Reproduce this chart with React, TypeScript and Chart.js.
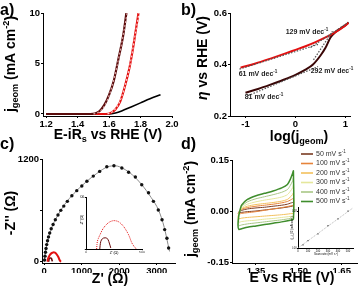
import React, { useEffect, useRef } from "react";
import { Chart, registerables } from "chart.js";

Chart.register(...registerables);

const W = 361;
const H = 287;
const FF = "'Liberation Sans', Arial, Helvetica, sans-serif";

// ---------- (a) polarisation curves ----------
const aTicksX = [1.2, 1.4, 1.6, 1.8, 2.0];
const aTicksY = [0, 5, 10];
const aDarkE = [1.2, 1.3, 1.4, 1.48, 1.51, 1.54, 1.57, 1.6, 1.63, 1.66, 1.69, 1.71];
const aDarkJ = [0, 0, 0, 0, 0.05, 0.3, 0.9, 1.9, 3.3, 5.5, 7.8, 10];
const aDarkFitE = [1.5, 1.53, 1.56, 1.59, 1.62, 1.65, 1.68, 1.715];
const aDarkFitJ = [0, 0.15, 0.55, 1.4, 2.8, 4.7, 7.0, 10];
const aRedE = [1.2, 1.4, 1.58, 1.61, 1.64, 1.67, 1.7, 1.73, 1.75, 1.77, 1.787];
const aRedJ = [0, 0, 0, 0.1, 0.45, 1.2, 2.7, 4.6, 6.3, 8.3, 10];
const aRedFitE = [1.59, 1.62, 1.65, 1.68, 1.71, 1.74, 1.76, 1.79];
const aRedFitJ = [0, 0.2, 0.7, 1.7, 3.3, 5.4, 7.3, 10];
const aBlkE = [1.2, 1.5, 1.6, 1.64, 1.68, 1.74, 1.8, 1.86, 1.927];
const aBlkJ = [0, 0, 0, 0.1, 0.3, 0.7, 1.1, 1.5, 1.9];

// ---------- (b) Tafel plots ----------
const bTicksX = [-1, 0, 1];
const bTicksY = [0.2, 0.4, 0.6];
const bRedX = [-1.1, -0.8, -0.5, -0.2, 0, 0.2, 0.4, 0.6, 0.8, 1.0, 1.06];
const bRedY = [0.388, 0.404, 0.423, 0.443, 0.457, 0.471, 0.487, 0.505, 0.526, 0.552, 0.562];
const bDarkX = [-1.0, -0.75, -0.5, -0.25, 0, 0.2, 0.35, 0.5, 0.6, 0.7, 0.8, 0.9, 1.0, 1.06];
const bDarkY = [0.29, 0.305, 0.322, 0.34, 0.36, 0.38, 0.4, 0.435, 0.465, 0.505, 0.526, 0.54, 0.553, 0.563];
const bFit61X = [-1.12, 0.45];
const bFit61Y = [0.382, 0.478];
const bFit129X = [0.3, 1.06];
const bFit129Y = [0.466, 0.564];
const bFit81X = [-0.95, 0.45];
const bFit81Y = [0.279, 0.392];
const bFit292X = [0.36, 0.74];
const bFit292Y = [0.418, 0.529];
const bSlopes = [129, 61, 292, 81];
const bSlopeX = [0.23, -0.75, 0.73, -0.63];
const bSlopeY = [0.527, 0.364, 0.375, 0.274];

// ---------- (c) Nyquist plots ----------
const cTicksX = [0, 1000, 2000, 3000];
const cTicksY = [0, 600, 1200];
const cDotX = [15, 25, 38, 52, 70, 92, 118, 150, 190, 240, 300, 370, 445, 525, 620, 740, 870, 1005, 1140, 1310, 1480, 1670, 1860, 2070, 2250, 2430, 2600, 2780, 2910, 3040, 3140, 3210, 3270, 3315];
const cDotY = [20, 65, 110, 155, 200, 245, 290, 335, 385, 435, 490, 545, 600, 650, 705, 770, 830, 885, 940, 1000, 1055, 1110, 1122, 1095, 1045, 990, 900, 805, 705, 605, 490, 375, 275, 160];
const cFitX = [0, 40, 100, 200, 350, 550, 800, 1100, 1400, 1700, 1900, 2100, 2350, 2600, 2850, 3050, 3200, 3300, 3340];
const cFitY = [0, 120, 250, 395, 530, 670, 800, 925, 1030, 1110, 1120, 1090, 1015, 900, 750, 600, 400, 200, 120];
const cRedX = [95, 98, 102, 110, 125, 155, 200, 245, 290, 335, 380, 410, 440, 455];
const cRedY = [0, 17, 30, 40, 55, 80, 101, 109, 105, 87, 55, 23, 4, 0];
const cDarkX = [123, 126, 132, 145, 155, 170, 185, 198, 208, 216, 221];
const cDarkY = [0, 13, 29, 39, 42, 43, 42, 35, 23, 12, 4];
const cInsetTicksX = [0, 500];
const cInsetTicksY = [0, 200];

// ---------- (d) cyclic voltammograms ----------
const dTicksX = [1.35, 1.5, 1.65];
const dTicksY = [-0.15, 0, 0.15];
const dRates = [50, 100, 200, 300, 400, 500];
const dE = [1.29, 1.295, 1.3, 1.32, 1.35, 1.38, 1.41, 1.44, 1.46, 1.47, 1.478, 1.481, 1.481, 1.47, 1.44, 1.41, 1.38, 1.35, 1.32, 1.3, 1.29, 1.287, 1.29];
const d50 = [-0.001, 0.002, 0.004, 0.008, 0.011, 0.013, 0.016, 0.019, 0.022, 0.025, 0.027, 0.028, 0.018, 0.015, 0.011, 0.008, 0.005, 0.002, 0.0, -0.002, -0.003, -0.002, -0.001];
const d100 = [-0.002, 0.003, 0.007, 0.012, 0.016, 0.019, 0.022, 0.026, 0.03, 0.034, 0.038, 0.04, 0.02, 0.017, 0.012, 0.008, 0.004, 0.0, -0.003, -0.005, -0.007, -0.005, -0.002];
const d200 = [-0.004, 0.003, 0.009, 0.016, 0.021, 0.024, 0.027, 0.031, 0.036, 0.043, 0.05, 0.056, -0.004, -0.006, -0.009, -0.011, -0.013, -0.015, -0.017, -0.019, -0.021, -0.016, -0.004];
const d300 = [-0.006, 0.004, 0.012, 0.022, 0.029, 0.034, 0.038, 0.043, 0.05, 0.06, 0.07, 0.078, -0.012, -0.014, -0.017, -0.02, -0.022, -0.025, -0.027, -0.029, -0.031, -0.024, -0.006];
const d400 = [-0.008, 0.006, 0.016, 0.029, 0.038, 0.044, 0.05, 0.057, 0.065, 0.077, 0.09, 0.1, -0.018, -0.02, -0.024, -0.027, -0.03, -0.033, -0.036, -0.039, -0.041, -0.032, -0.008];
const d500 = [-0.01, 0.008, 0.02, 0.036, 0.047, 0.054, 0.061, 0.07, 0.08, 0.095, 0.112, 0.12, -0.022, -0.025, -0.03, -0.034, -0.038, -0.042, -0.046, -0.05, -0.052, -0.04, -0.01];
const dInsetRate = [50, 100, 200, 300, 400, 500];
const dInsetJ = [0.007, 0.016, 0.031, 0.049, 0.064, 0.081];
const dInsetFitX = [0, 550];
const dInsetFitY = [0, 0.088];
const dInsetTicksX = [0, 100, 200, 300, 400, 500];
const dInsetTicksY = [0, 0.08];

const dLoops = [d50, d100, d200, d300, d400, d500];
const dColors = ["#7a3b22", "#e6833a", "#f3c15d", "#e5e79c", "#a9c786", "#3f8d2c"];

// ---------- helpers ----------
const pts = (xs: number[], ys: number[]) => xs.map((x, i) => ({ x, y: ys[i] }));

function line(xs: number[], ys: number[], color: string, width: number, extra: any = {}) {
  return {
    data: pts(xs, ys),
    showLine: true,
    borderColor: color,
    backgroundColor: color,
    borderWidth: width,
    pointRadius: 0,
    fill: false,
    ...extra,
  };
}

type Seg = { t: string; s?: number; dy?: number; it?: boolean; b?: boolean };

function drawRich(
  ctx: CanvasRenderingContext2D,
  segs: Seg[],
  x: number,
  y: number,
  size: number,
  o: { rot?: number; color?: string; bold?: boolean; align?: "left" | "center" | "right" } = {}
) {
  const bold = o.bold ?? true;
  const font = (sg: Seg) =>
    `${sg.it ? "italic " : ""}${sg.b ?? bold ? "bold " : ""}${(sg.s ?? 1) * size}px ${FF}`;
  ctx.save();
  ctx.translate(x, y);
  if (o.rot) ctx.rotate(o.rot);
  let total = 0;
  for (const sg of segs) {
    ctx.font = font(sg);
    total += ctx.measureText(sg.t).width;
  }
  const align = o.align ?? "center";
  let cx = align === "center" ? -total / 2 : align === "right" ? -total : 0;
  ctx.textBaseline = "middle";
  ctx.textAlign = "left";
  ctx.fillStyle = o.color ?? "#000";
  for (const sg of segs) {
    ctx.font = font(sg);
    ctx.fillText(sg.t, cx, (sg.dy ?? 0) * size);
    cx += ctx.measureText(sg.t).width;
  }
  ctx.restore();
}

type AxisSpec = {
  min: number;
  max: number;
  ticks: number[];
  fmt: (v: number) => string;
  size: number;
  bold?: boolean;
  tickLen?: number;
  pad?: number;
};

type Spec = {
  area: [number, number, number, number];
  yW: number;
  xH: number;
  x: AxisSpec;
  y: AxisSpec;
  datasets: any[];
  draw: (c: any) => void;
};

function axis(a: AxisSpec, isY: boolean, fixed: number) {
  return {
    type: "linear",
    min: a.min,
    max: a.max,
    afterBuildTicks: (s: any) => {
      s.ticks = a.ticks.map((v) => ({ value: v }));
    },
    afterFit: (s: any) => {
      if (isY) s.width = fixed;
      else s.height = fixed;
    },
    ticks: {
      callback: (v: any) => a.fmt(Number(v)),
      font: { family: FF, size: a.size, weight: a.bold === false ? "normal" : "bold" },
      color: "#000",
      padding: a.pad ?? 1,
      maxRotation: 0,
      autoSkip: false,
    },
    grid: {
      display: true,
      drawOnChartArea: false,
      drawTicks: true,
      tickLength: a.tickLen ?? 2,
      color: "#000",
      lineWidth: 1,
    },
    border: { display: true, color: "#000", width: 1 },
  };
}

function makeChart(canvas: HTMLCanvasElement, spec: Spec) {
  const [l, t, r, b] = spec.area;
  return new Chart(canvas, {
    type: "scatter",
    data: { datasets: spec.datasets },
    options: {
      responsive: false,
      animation: false,
      devicePixelRatio: 1,
      events: [],
      layout: { padding: { left: l - spec.yW, top: t, right: W - r, bottom: H - b - spec.xH } },
      plugins: { legend: { display: false }, tooltip: { enabled: false } },
      scales: { x: axis(spec.x, false, spec.xH), y: axis(spec.y, true, spec.yW) },
    } as any,
    plugins: [{ id: "txt", afterDraw: (c: any) => spec.draw(c) }],
  } as any);
}

const jgeom: Seg[] = [
  { t: "j" },
  { t: "geom", s: 0.65, dy: 0.3 },
  { t: " (mA cm" },
  { t: "-2", s: 0.65, dy: -0.35 },
  { t: ")" },
];

// ---------- specs ----------
const specA: Spec = {
  area: [43, 13, 172, 116],
  yW: 26,
  xH: 12,
  x: { min: 1.18, max: 2.0, ticks: aTicksX, fmt: (v) => v.toFixed(1), size: 9.5 },
  y: { min: -0.2, max: 10, ticks: aTicksY, fmt: (v) => String(v), size: 9.5 },
  datasets: [
    line(aDarkFitE, aDarkFitJ, "#d9a0a0", 1.2, { borderDash: [2, 2], cubicInterpolationMode: "monotone" }),
    line(aRedFitE, aRedFitJ, "#ffc8c8", 1.2, { borderDash: [2, 2], cubicInterpolationMode: "monotone" }),
    line(aDarkE, aDarkJ, "#5a0c0c", 2.2, { cubicInterpolationMode: "monotone" }),
    line(aRedE, aRedJ, "#e31010", 2.2, { cubicInterpolationMode: "monotone" }),
    line(aBlkE, aBlkJ, "#000", 1.6, { cubicInterpolationMode: "monotone" }),
  ],
  draw: (c) => {
    const ctx = c.ctx;
    drawRich(ctx, [{ t: "a)" }], 0, 11, 16, { align: "left" });
    drawRich(ctx, [{ t: "E-iR" }, { t: "s", s: 0.65, dy: 0.3 }, { t: " vs RHE (V)" }], 108, 135, 14);
    drawRich(ctx, jgeom, 11, 64, 14, { rot: -Math.PI / 2 });
  },
};

const specB: Spec = {
  area: [230, 13, 350, 116],
  yW: 26,
  xH: 12,
  x: { min: -1.31, max: 1.09, ticks: bTicksX, fmt: (v) => String(v), size: 9.5 },
  y: { min: 0.2, max: 0.6, ticks: bTicksY, fmt: (v) => v.toFixed(1), size: 9.5 },
  datasets: [
    line(bFit61X, bFit61Y, "#555", 1.2, { borderDash: [1.5, 1.5] }),
    line(bFit129X, bFit129Y, "#555", 1.2, { borderDash: [1.5, 1.5] }),
    line(bFit81X, bFit81Y, "#555", 1.2, { borderDash: [1.5, 1.5] }),
    line(bFit292X, bFit292Y, "#555", 1.2, { borderDash: [1.5, 1.5] }),
    line(bRedX, bRedY, "#e31010", 2, { cubicInterpolationMode: "monotone" }),
    line(bDarkX, bDarkY, "#3a0606", 2, { cubicInterpolationMode: "monotone" }),
  ],
  draw: (c) => {
    const ctx = c.ctx;
    const sx = c.scales.x;
    const sy = c.scales.y;
    drawRich(ctx, [{ t: "b)" }], 181, 11, 16, { align: "left" });
    bSlopes.forEach((s, i) => {
      drawRich(
        ctx,
        [{ t: `${s} mV dec` }, { t: "-1", s: 0.65, dy: -0.35 }],
        sx.getPixelForValue(bSlopeX[i]),
        sy.getPixelForValue(bSlopeY[i]),
        7,
        { color: "#222" }
      );
    });
    drawRich(ctx, [{ t: "log(j" }, { t: "geom", s: 0.65, dy: 0.3 }, { t: ")" }], 299, 137, 14);
    drawRich(ctx, [{ t: "η", it: true }, { t: " vs RHE (V)" }], 203, 58, 14, { rot: -Math.PI / 2 });
  },
};

const specC: Spec = {
  area: [42, 159, 175, 263],
  yW: 30,
  xH: 10,
  x: { min: -55, max: 3485, ticks: cTicksX, fmt: (v) => String(v), size: 9.5 },
  y: { min: -15, max: 1200, ticks: cTicksY, fmt: (v) => (v === 600 ? "" : String(v)), size: 9.5 },
  datasets: [
    line(cRedX, cRedY, "#e31010", 2, { tension: 0.3 }),
    line(cDarkX, cDarkY, "#6a0a0a", 1.6, { tension: 0.3 }),
    { data: pts(cDotX, cDotY), showLine: false, pointRadius: 1.7, pointBackgroundColor: "#111", pointBorderWidth: 0 },
    line(cFitX, cFitY, "#8a8a8a", 1, { cubicInterpolationMode: "monotone" }),
  ],
  draw: (c) => {
    const ctx = c.ctx;
    drawRich(ctx, [{ t: "c)" }], 0, 145, 16, { align: "left" });
    drawRich(ctx, [{ t: "Z' (Ω)" }], 110, 279, 14);
    drawRich(ctx, [{ t: "-Z'' (Ω)" }], 11, 213, 14, { rot: -Math.PI / 2 });
  },
};

const specCInset: Spec = {
  area: [86, 197, 142, 249],
  yW: 6,
  xH: 4,
  x: { min: 0, max: 500, ticks: cInsetTicksX, fmt: (v) => String(v), size: 3.5, bold: false, tickLen: 1.2, pad: 0.5 },
  y: { min: 0, max: 200, ticks: cInsetTicksY, fmt: (v) => (v === 0 ? "" : String(v)), size: 3.5, bold: false, tickLen: 1.2, pad: 0.5 },
  datasets: [
    line(cRedX, cRedY, "#e31010", 1, { tension: 0.3, borderDash: [1, 1] }),
    line(cDarkX, cDarkY, "#6a0a0a", 1, { tension: 0.3 }),
  ],
  draw: (c) => {
    const ctx = c.ctx;
    drawRich(ctx, [{ t: "Z' (Ω)" }], 114, 253.5, 3.5, { bold: false });
    drawRich(ctx, [{ t: "-Z'' (Ω)" }], 82.5, 220, 3.5, { bold: false, rot: -Math.PI / 2 });
  },
};

const specD: Spec = {
  area: [232, 160, 357, 263],
  yW: 30,
  xH: 10,
  x: { min: 1.266, max: 1.7036, ticks: dTicksX, fmt: (v) => v.toFixed(2), size: 9.5 },
  y: { min: -0.151, max: 0.152, ticks: dTicksY, fmt: (v) => v.toFixed(2), size: 9.5 },
  datasets: dLoops
    .map((ys, i) => line(dE, ys, dColors[i], i === 5 ? 1.5 : 1, { tension: 0.25 }))
    .reverse(),
  draw: (c) => {
    const ctx = c.ctx;
    drawRich(ctx, [{ t: "d)" }], 181, 145, 16, { align: "left" });
    dRates.forEach((r, i) => {
      const ry = 154 + i * 9.5;
      ctx.save();
      ctx.strokeStyle = dColors[i];
      ctx.lineWidth = 1.6;
      ctx.beginPath();
      ctx.moveTo(301, ry);
      ctx.lineTo(313, ry);
      ctx.stroke();
      ctx.restore();
      drawRich(ctx, [{ t: `${r} mV s` }, { t: "-1", s: 0.65, dy: -0.35 }], 316, ry, 7, {
        bold: false,
        align: "left",
        color: "#333",
      });
    });
    drawRich(ctx, [{ t: "E vs RHE (V)" }], 292, 278, 14);
    drawRich(ctx, jgeom, 191, 209, 14, { rot: -Math.PI / 2 });
  },
};

const specDInset: Spec = {
  area: [298, 207, 353, 248],
  yW: 6,
  xH: 4,
  x: { min: 0, max: 550, ticks: dInsetTicksX, fmt: (v) => String(v), size: 2.6, bold: false, tickLen: 1, pad: 0.4 },
  y: { min: 0, max: 0.09, ticks: dInsetTicksY, fmt: (v) => v.toFixed(2), size: 2.6, bold: false, tickLen: 1, pad: 0.4 },
  datasets: [
    { data: pts(dInsetRate, dInsetJ), showLine: false, pointRadius: 0.9, pointStyle: "rect", pointBackgroundColor: "#555", pointBorderWidth: 0 },
    line(dInsetFitX, dInsetFitY, "#999", 0.7, { borderDash: [1, 1] }),
  ],
  draw: (c) => {
    const ctx = c.ctx;
    drawRich(ctx, [{ t: "Scan rate (mV s" }, { t: "-1", s: 0.65, dy: -0.35 }, { t: ")" }], 326, 254.5, 3, { bold: false });
    drawRich(
      ctx,
      [{ t: "(j" }, { t: "a", s: 0.65, dy: 0.3 }, { t: "-j" }, { t: "c", s: 0.65, dy: 0.3 }, { t: ")/2 (mA cm" }, { t: "-2", s: 0.65, dy: -0.35 }, { t: ")" }],
      292.5,
      228,
      3,
      { bold: false, rot: -Math.PI / 2 }
    );
  },
};

function Panel({ spec }: { spec: Spec }) {
  const ref = useRef<HTMLCanvasElement>(null);
  useEffect(() => {
    const chart = makeChart(ref.current as HTMLCanvasElement, spec);
    return () => chart.destroy();
  }, [spec]);
  return (
    <canvas
      ref={ref}
      width={W}
      height={H}
      style={{ position: "absolute", left: 0, top: 0, width: W, height: H }}
    />
  );
}

export default function App() {
  return (
    <div style={{ position: "absolute", left: 0, top: 0, width: W, height: H, background: "#fff", overflow: "hidden" }}>
      <Panel spec={specA} />
      <Panel spec={specB} />
      <Panel spec={specC} />
      <Panel spec={specCInset} />
      <Panel spec={specD} />
      <Panel spec={specDInset} />
    </div>
  );
}
